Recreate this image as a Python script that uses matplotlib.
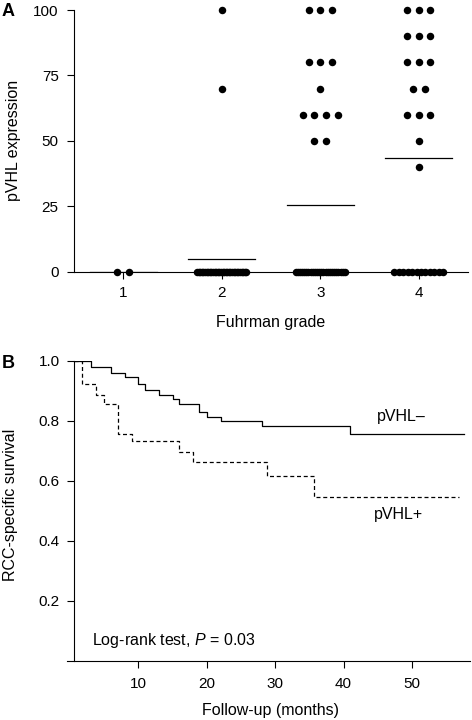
import numpy as np
import matplotlib
matplotlib.use("Agg")
import matplotlib.pyplot as plt

plt.rcParams['font.family'] = ['Liberation Sans', 'DejaVu Sans']
plt.rcParams['mathtext.fontset'] = 'custom'
plt.rcParams['mathtext.rm'] = 'Liberation Sans'
plt.rcParams['mathtext.it'] = 'Liberation Sans:italic'

# ---------------- Data ----------------
grades = [1, 2, 3, 4]
grade_labels = ['1', '2', '3', '4']
levels = [0, 40, 50, 60, 70, 80, 90, 100]
grade1_counts = [2, 0, 0, 0, 0, 0, 0, 0]
grade2_counts = [32, 0, 0, 0, 1, 0, 0, 1]
grade3_counts = [24, 0, 2, 4, 1, 3, 0, 3]
grade4_counts = [12, 1, 1, 3, 2, 3, 3, 3]
a_yticks = [0, 25, 50, 75, 100]

neg_time = [0.5, 3.0, 6.0, 8.0, 10.0, 11.0, 13.0, 15.0, 16.0, 18.8, 20.0, 22.0, 28.0, 41.0, 57.6]
neg_surv = [1.0, 0.978, 0.960, 0.947, 0.921, 0.903, 0.887, 0.871, 0.857, 0.828, 0.813, 0.799, 0.781, 0.756, 0.756]
pos_time = [0.5, 1.8, 3.8, 4.9, 7.0, 9.1, 16.0, 18.0, 28.8, 35.7, 56.9]
pos_surv = [1.0, 0.922, 0.886, 0.855, 0.756, 0.731, 0.695, 0.661, 0.616, 0.547, 0.547]
b_xticks = [10, 20, 30, 40, 50]
b_yticks = [0.2, 0.4, 0.6, 0.8, 1.0]

FS = 11.5
TFS = 11
fig = plt.figure(figsize=(4.72, 7.2), dpi=100)

# ---------------- Panel A ----------------
axA = fig.add_axes([74 / 472, (720 - 271.7) / 720, (468 - 74) / 472, 261.7 / 720])
all_counts = [grade1_counts, grade2_counts, grade3_counts, grade4_counts]
step = 0.1187
for g, counts in zip(grades, all_counts):
    for lev, n in zip(levels, counts):
        if n == 0:
            continue
        s = min(step, 0.5 / (n - 1)) if n > 1 else step
        offs = (np.arange(n) - (n - 1) / 2) * s
        axA.plot(g + offs, np.full(n, lev), 'o', color='black', ms=5.4,
                 mec='black', mew=0, clip_on=False, zorder=4)
    vals = np.repeat(levels, counts)
    m = vals.mean()
    axA.plot([g - 0.34, g + 0.34], [m, m], color='black', lw=0.9, zorder=3)

axA.set_xlim(0.5, 4.5)
axA.set_ylim(0, 100)
axA.set_xticks(grades)
axA.set_xticklabels(grade_labels)
axA.set_yticks(a_yticks)
for sp in ['top', 'right']:
    axA.spines[sp].set_visible(False)
for sp in ['left', 'bottom']:
    axA.spines[sp].set_linewidth(0.8)
axA.tick_params(axis='both', direction='out', length=5, width=0.8, labelsize=TFS)
axA.tick_params(axis='y', pad=6)
axA.tick_params(axis='x', pad=5)
axA.set_xlabel('Fuhrman grade', fontsize=FS)
axA.xaxis.set_label_coords(0.5, (272.3 - 323) / 261.7)
axA.xaxis.label.set_va('center')
axA.set_ylabel('pVHL expression', fontsize=FS)
axA.yaxis.set_label_coords((14 - 74) / 394, 0.5)
axA.yaxis.label.set_va('center')

# ---------------- Panel B ----------------
axB = fig.add_axes([66.7 / 472, (720 - 660.7) / 720, (470 - 66.7) / 472, 300 / 720])
axB.plot(neg_time, neg_surv, drawstyle='steps-post', color='black', lw=0.9)
axB.plot(pos_time, pos_surv, drawstyle='steps-post', color='black', lw=0.9,
         linestyle=(0, (3.2, 2.2)))
axB.set_xlim(-0.5, 58.5)
axB.set_ylim(0, 1.0)
axB.spines['left'].set_position(('data', 0.5))
axB.spines['left'].set_bounds(0, 1.0)
for sp in ['top', 'right']:
    axB.spines[sp].set_visible(False)
for sp in ['left', 'bottom']:
    axB.spines[sp].set_linewidth(0.8)
axB.set_xticks(b_xticks)
axB.set_yticks(b_yticks)
axB.set_yticklabels([f'{v:.1f}' for v in b_yticks])
axB.tick_params(axis='both', direction='out', length=5, width=0.8, labelsize=TFS)
axB.tick_params(axis='y', pad=5)
axB.tick_params(axis='x', pad=6.5)
axB.set_xlabel('Follow-up (months)', fontsize=FS)
axB.xaxis.set_label_coords((270 - 66.7) / 403.3, (660.7 - 710) / 300)
axB.xaxis.label.set_va('center')
axB.set_ylabel('RCC-specific survival', fontsize=FS)
axB.yaxis.set_label_coords((11 - 66.7) / 403.3, (660.7 - 505) / 300)
axB.yaxis.label.set_va('center')

axB.text(48.4, 0.813, 'pVHL\u2013', fontsize=FS, ha='center', va='center')
axB.text(48.1, 0.486, 'pVHL+', fontsize=FS, ha='center', va='center')
axB.text((91.7 - 66.7) / 403.3, (660.7 - 640) / 300, 'Log-rank test, $P$ = 0.03',
         transform=axB.transAxes, fontsize=FS, ha='left', va='center')

# Panel letters
fig.text(2 / 472, 1 - 12 / 720, 'A', fontsize=13, fontweight='bold', ha='left', va='center')
fig.text(2 / 472, 1 - 364 / 720, 'B', fontsize=13, fontweight='bold', ha='left', va='center')

fig.savefig('out.png', dpi=100)
